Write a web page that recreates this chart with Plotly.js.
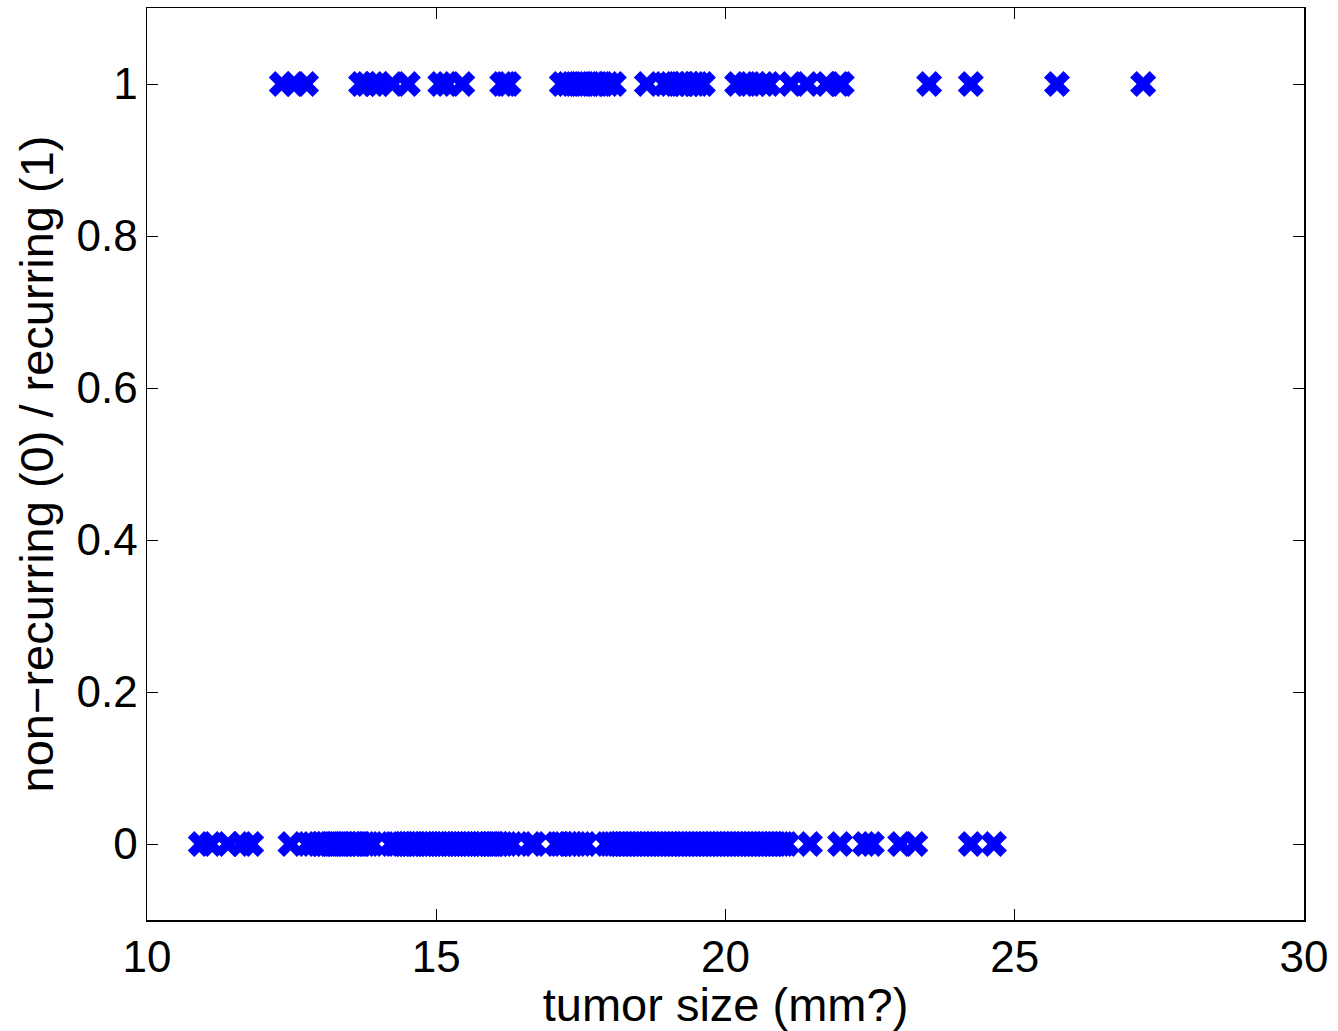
<!DOCTYPE html>
<html>
<head>
<meta charset="utf-8">
<script src="https://cdn.plot.ly/plotly-3.0.1.min.js"></script>
<style>html,body{margin:0;padding:0;background:#fff;}#chart{width:1338px;height:1031px;}</style>
</head>
<body>
<div id="chart"></div>
<script>
// Tumor sizes of recurring cases (class 1)
const recurringSize = [
  12.33, 12.55, 12.75,
  13.70, 13.79, 13.91, 14.01, 14.24, 14.51,
  15.07, 15.18, 15.45,
  16.14, 16.20, 16.25,
  17.17, 17.26, 17.34, 17.45, 17.53, 17.62, 17.72, 17.79, 17.88, 17.97, 18.07,
  18.64, 18.95, 19.04, 19.13, 19.22, 19.28, 19.37, 19.46, 19.52, 19.61,
  20.20, 20.36, 20.53, 20.65, 20.75, 21.13, 21.41, 21.75, 21.96, 22.01,
  23.52, 24.24, 25.73, 27.22
];
// Tumor sizes of non-recurring cases (class 0)
const nonRecurringSize = [
  10.93, 11.10, 11.40, 11.64, 11.80,
  12.48, 12.78, 12.86, 12.95, 13.02, 13.08, 13.15, 13.21, 13.27, 13.34, 13.40,
  13.46, 13.53, 13.58, 13.64, 13.70, 13.77, 13.83, 13.90,
  14.22, 14.28, 14.33, 14.40, 14.45, 14.50, 14.56, 14.61, 14.66, 14.72, 14.78,
  14.83, 14.88, 14.94, 15.00, 15.05, 15.11, 15.16, 15.22, 15.27, 15.33, 15.38,
  15.44, 15.50, 15.55, 15.61, 15.67, 15.72, 15.78, 15.83, 15.90, 15.96, 16.02,
  16.08, 16.15, 16.22, 16.31, 16.63, 16.70,
  17.08, 17.14, 17.20, 17.28, 17.35, 17.42, 17.50, 17.58,
  17.94, 18.00, 18.06, 18.12, 18.18, 18.24, 18.30, 18.36, 18.42, 18.48, 18.54,
  18.60, 18.66, 18.72, 18.78, 18.84, 18.90, 18.96, 19.02, 19.08, 19.14, 19.20,
  19.26, 19.32, 19.38, 19.44, 19.50, 19.56, 19.62, 19.68, 19.74, 19.80, 19.86,
  19.92, 19.98, 20.04, 20.10, 20.16, 20.22, 20.28, 20.34, 20.40, 20.46, 20.52,
  20.58, 20.64, 20.70, 20.76, 20.82, 20.88, 20.94, 21.00, 21.06,
  21.46, 21.98, 22.41, 22.53, 23.02, 23.28, 24.24, 24.64
];
const xTicks = [10, 15, 20, 25, 30];
const yTicks = [0, 0.2, 0.4, 0.6, 0.8, 1];
const yTickText = ['0', '0.2', '0.4', '0.6', '0.8', '1'];

const allX = nonRecurringSize.concat(recurringSize);
const allY = nonRecurringSize.map(() => 0).concat(recurringSize.map(() => 1));

const font = 'Liberation Sans, Arial, Helvetica, sans-serif';
const trace = {
  x: allX, y: allY, type: 'scatter', mode: 'markers',
  marker: {symbol: 'x', size: 23, color: '#0000ff', line: {width: 0}},
  hoverinfo: 'skip', showlegend: false
};
const axisCommon = {
  showgrid: false, zeroline: false, showline: true, linecolor: '#000', linewidth: 1.5,
  mirror: 'ticks', ticks: 'inside', ticklen: 11, tickwidth: 1, tickcolor: '#000',
  tickfont: {family: font, size: 44, color: '#000'}
};
const layout = {
  width: 1338, height: 1031,
  margin: {l: 147, r: 34, t: 8, b: 111},
  paper_bgcolor: '#fff', plot_bgcolor: '#fff',
  xaxis: Object.assign({}, axisCommon, {
    range: [10, 30], tickvals: xTicks, ticktext: xTicks.map(String),
    ticklabelstandoff: -2,
    title: {text: 'tumor size (mm?)', font: {family: font, size: 47, color: '#000'}, standoff: 6}
  }),
  yaxis: Object.assign({}, axisCommon, {
    range: [-0.1, 1.1], tickvals: yTicks, ticktext: yTickText,
    ticklabelstandoff: -1,
    title: {text: 'non−recurring (0) / recurring (1)', font: {family: font, size: 47, color: '#000'}, standoff: 8}
  })
};
Plotly.newPlot('chart', [trace], layout, {displayModeBar: false, staticPlot: true});
</script>
</body>
</html>
